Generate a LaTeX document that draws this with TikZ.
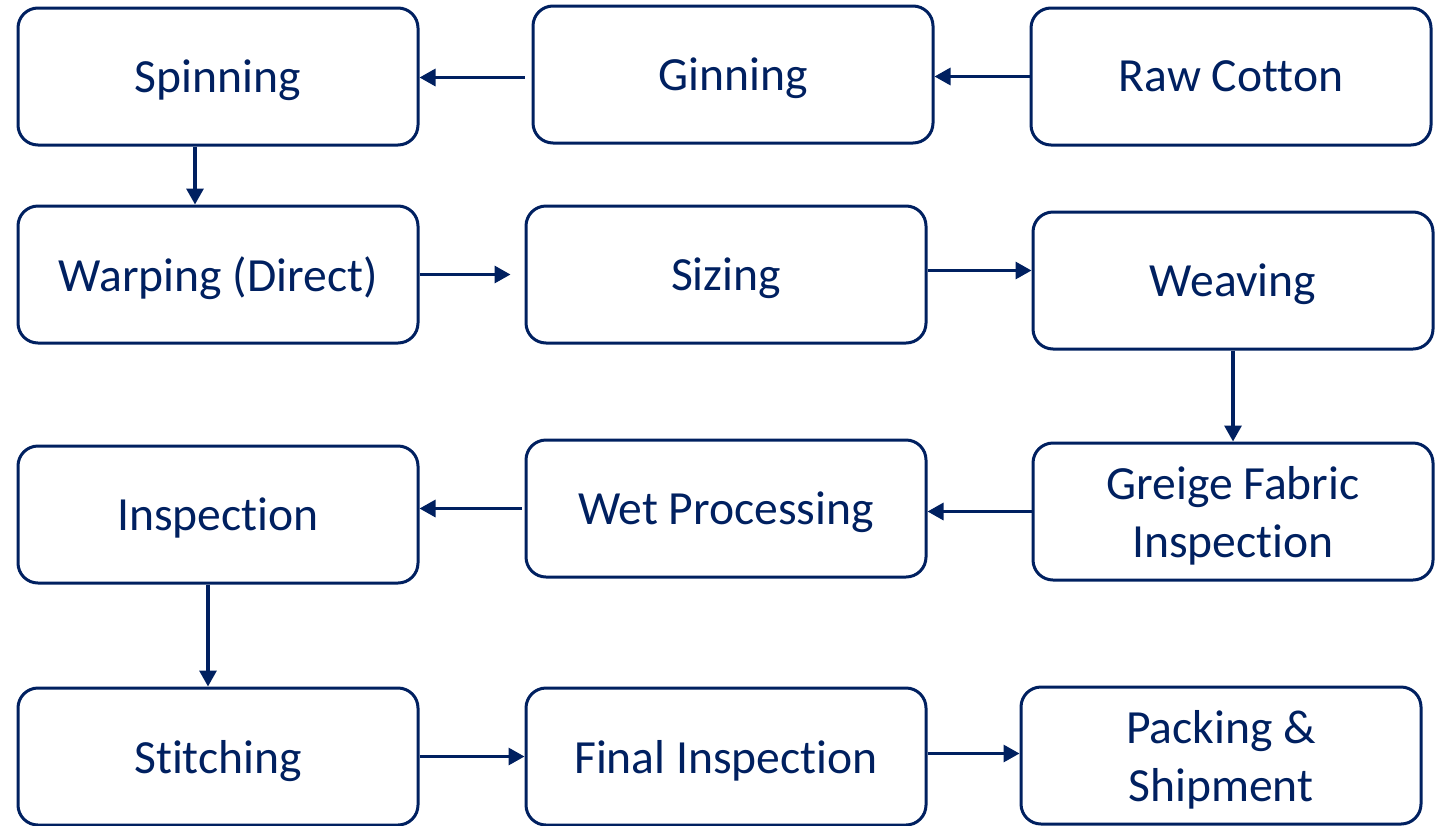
\documentclass[tikz,border=0pt]{standalone}
\usepackage{fontspec}
\setmainfont{Carlito}[RawFeature=-liga]
\usetikzlibrary{arrows.meta}
\definecolor{navy}{RGB}{0,32,96}
\tikzset{
  stage/.style={draw=navy, line width=1.5pt, rounded corners=10pt,
    minimum width=200pt, minimum height=68.5pt, inner sep=0pt,
    text depth=0pt, align=center, text=navy,
    font=\fontsize{23.8}{29}\selectfont},
  flow/.style={draw=navy, line width=1.6pt,
    -{Triangle[length=8pt,width=8.5pt]}},
}
\begin{document}
\begin{tikzpicture}[x=0.5pt,y=-0.5pt]
        \useasboundingbox (0,0) rectangle (1443,825);

        \node[stage] (spin) at (218,76.5) {Spinning};
        \node[stage] (gin) at (733,74.5) {Ginning};
        \node[stage] (raw) at (1231,76.5) {Raw Cotton};

        \node[stage] (warp) at (218,274.5) {Warping (Direct)};
        \node[stage] (size) at (726,274.5) {Sizing};
        \node[stage] (weave) at (1233,280.5) {Weaving};

        \node[stage] (insp) at (218,514.5) {Inspection};
        \node[stage] (wet) at (726,508.5) {Wet Processing};
        \node[stage] (greige) at (1233,511.5) {Greige Fabric\\Inspection};

        \node[stage] (stitch) at (218,756.5) {Stitching};
        \node[stage] (final) at (726,756.5) {Final Inspection};
        \node[stage] (pack) at (1221,755.5) {Packing \&\\Shipment};

        \draw[flow] (raw.west) -- (raw.west -| gin.east);
        \draw[flow, shorten <=3.5pt] ([yshift=-1.5pt]gin.west) -- ([yshift=-1.5pt]gin.west -| spin.east);
        \draw[flow] ([xshift=-11.5pt]spin.south) -- ([xshift=-11.5pt]spin.south |- warp.north);

        \draw[flow, shorten >=7pt] (warp.east) -- (warp.east -| size.west);
        \draw[flow] ([yshift=2pt]size.east) -- ([yshift=2pt]size.east -| weave.west);
        \draw[flow] (weave.south) -- (greige.north);

        \draw[flow] (greige.west) -- (greige.west -| wet.east);
        \draw[flow, shorten <=1.5pt] (wet.west) -- (wet.west -| insp.east);
        \draw[flow] ([xshift=-5pt]insp.south) -- ([xshift=-5pt]insp.south |- stitch.north);

        \draw[flow] (stitch.east) -- (stitch.east -| final.west);
        \draw[flow] ([yshift=1.5pt]final.east) -- ([yshift=1.5pt]final.east -| pack.west);
      \end{tikzpicture}
\end{document}
